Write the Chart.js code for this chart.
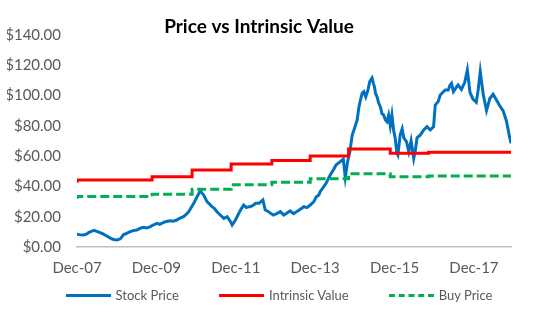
<!DOCTYPE html>
<html>
<head>
<meta charset="utf-8">
<script src="https://cdn.jsdelivr.net/npm/chart.js@4"></script>
<style>
  body { margin: 0; background: #fff; }
  #wrap { position: relative; width: 550px; height: 330px; }
  #legend {
    position: absolute; left: 0; top: 285px; width: 550px; height: 20px;
    display: flex; justify-content: center; align-items: center;
    padding-left: 8px; box-sizing: border-box;
    font-family: Lato, sans-serif; font-size: 13px; color: #595959;
  }
  .item { display: flex; align-items: center; margin: 0 20px; }
  .swatch { width: 45px; height: 0; margin-right: 5px; }
</style>
</head>
<body>
<div id="wrap">
  <canvas id="chart" width="550" height="330"></canvas>
  <div id="legend"></div>
</div>
<script>
// months after Dec-07
const stockMonths = [0, 1, 2, 3, 3.5, 4.5, 5.2, 6, 7, 8, 9, 10, 10.6, 11.5, 12.1, 13.1, 14.1, 15, 16.1, 17,
  18.1, 19, 20.1, 21, 22.2, 23, 24.2, 25, 26.2, 27, 28.2, 29, 30.2, 31, 32.2, 33, 33.8, 34.5, 35.3, 36.3,
  37.3, 37.8, 38.3, 39.3, 40, 40.8, 41.5, 42.3, 43.3, 44.4, 45.4, 46.4, 46.9, 47.9, 48.9, 49.6, 50.4, 51.2, 51.9, 52.4,
  53.4, 54, 55, 56.2, 56.9, 57.9, 58.5, 59.4, 60.5, 61.5, 62.5, 63.5, 64.4, 65.5, 66.5, 67.5, 68.6, 69.5, 70.5, 71.6,
  72.3, 73.1, 73.5, 74.5, 75.3, 76, 76.8, 77.5, 78.3, 79.3, 80.5, 81.1, 81.8, 82.5, 83.2, 84, 84.7, 85.2, 85.7, 86.2,
  86.7, 87.3, 88, 88.5, 89.2, 89.6, 89.9, 90.3, 90.7, 91.2, 91.7, 92.2, 92.7, 93.2, 93.7, 94.2, 94.7, 95.2, 95.7, 96.2,
  96.7, 97, 97.7, 98.3, 98.8, 99.6, 100.3, 101, 101.8, 102.3, 102.8, 103.8, 104.8, 105.8, 106.8, 107.8, 108.3, 109.2, 109.8, 111.3,
  112.2, 112.8, 113.2, 113.8, 114.8, 115.2, 116.2, 117.2, 118, 118.8, 119.7, 120.7, 121.3, 121.9, 122.8, 123.8, 124.8, 125.8, 126.8, 127.8,
  128.8, 129.8, 130.8, 131.2];
const stockPrice = [8.5, 8.0, 7.9, 8.6, 9.5, 10.5, 11.0, 10.3, 9.5, 8.5, 7.3, 6.0, 5.3, 4.8, 4.6, 5.4, 8.2, 9.0, 10.1, 10.8,
  11.2, 12.3, 13.0, 12.5, 13.5, 14.5, 15.6, 15.0, 16.2, 16.8, 17.3, 17.0, 17.8, 18.9, 20.0, 21.5, 23.3, 26.0, 28.8, 33.2,
  37.2, 35.5, 34.3, 29.9, 28.5, 26.6, 25.5, 23.3, 21.1, 18.9, 20.0, 16.7, 14.5, 17.8, 22.2, 25.0, 27.7, 26.0, 26.6, 26.6,
  27.7, 28.8, 28.8, 31.0, 24.4, 23.3, 22.2, 21.1, 22.2, 23.3, 21.1, 22.5, 23.8, 22.0, 23.5, 24.9, 26.6, 26.0, 27.7, 29.9,
  33.0, 34.3, 36.5, 39.5, 42.0, 45.3, 48.5, 50.8, 54.1, 55.8, 58.0, 46.0, 56.3, 63.0, 73.9, 79.0, 83.8, 92.0, 97.0, 101.4,
  102.5, 99.0, 104.0, 109.1, 111.5, 108.0, 105.8, 101.0, 99.2, 95.0, 92.6, 88.0, 87.1, 84.0, 82.7, 87.0, 80.0, 87.1, 77.2, 71.7,
  62.0, 60.7, 74.0, 78.0, 72.0, 69.5, 62.9, 70.0, 58.5, 64.0, 72.0, 73.9, 77.2, 79.4, 77.2, 79.4, 93.7, 96.0, 100.3, 103.6,
  103.6, 106.9, 108.0, 102.5, 105.8, 106.9, 104.0, 108.5, 116.8, 102.0, 97.5, 95.5, 104.0, 115.7, 100.8, 90.0, 98.0, 100.8, 97.0, 93.2,
  90.0, 83.3, 72.3, 68.4];

const valueMonths = [0, 22.7, 34.8, 46.6, 58.9, 70.5, 82.1, 94.7, 106.3, 118.4, 131.2];
const intrinsicValue = [42.4, 44.2, 46.4, 50.8, 54.7, 57.1, 60.1, 64.6, 61.8, 62.5, 62.5];
const buyPrice = [31.6, 33.4, 34.8, 38.1, 41.0, 42.8, 45.1, 48.4, 46.4, 46.9, 46.9];

const xTickLabels = ["Dec-07", "Dec-09", "Dec-11", "Dec-13", "Dec-15", "Dec-17"];
const yTicks = [0, 20, 40, 60, 80, 100, 120, 140];

const toPoints = (xs, ys) => xs.map((x, i) => ({ x: x, y: ys[i] }));
const textColor = "#595959";

const chart = new Chart(document.getElementById("chart"), {
  type: "line",
  data: {
    datasets: [
      {
        label: "Stock Price",
        data: toPoints(stockMonths, stockPrice),
        borderColor: "#0070C0",
        backgroundColor: "#0070C0",
        borderWidth: 3,
        pointRadius: 0,
        order: 3,
      },
      {
        label: "Intrinsic Value",
        data: toPoints(valueMonths, intrinsicValue),
        borderColor: "#FF0000",
        backgroundColor: "#FF0000",
        borderWidth: 3,
        pointRadius: 0,
        stepped: "after",
        order: 2,
      },
      {
        label: "Buy Price",
        data: toPoints(valueMonths, buyPrice),
        borderColor: "#00B050",
        backgroundColor: "#00B050",
        borderWidth: 3,
        borderDash: [9, 4],
        pointRadius: 0,
        stepped: "after",
        order: 1,
      },
    ],
  },
  options: {
    responsive: false,
    animation: false,
    layout: { padding: { left: 7, right: 39, top: 0, bottom: 41 } },
    plugins: {
      legend: { display: false },
      tooltip: { enabled: false },
      title: {
        display: true,
        text: "Price vs Intrinsic Value",
        color: "#000",
        font: { family: "Lato", size: 19, weight: "bold" },
        padding: { top: 15, bottom: -3 },
      },
    },
    scales: {
      x: {
        type: "linear",
        min: stockMonths[0],
        max: stockMonths[stockMonths.length - 1],
        grid: { display: false, drawTicks: false },
        border: { display: true, color: "#BFBFBF", width: 1.5 },
        afterBuildTicks: (scale) => {
          scale.ticks = xTickLabels.map((_, i) => ({ value: i * 24 }));
        },
        ticks: {
          autoSkip: false,
          maxRotation: 0,
          padding: 12,
          color: textColor,
          font: { family: "Lato", size: 15 },
          callback: (value) => xTickLabels[Math.round(value / 24)],
        },
      },
      y: {
        min: 0,
        max: 140,
        afterFit: (scale) => { scale.width = 70; },
        afterBuildTicks: (scale) => {
          scale.ticks = yTicks.map((v) => ({ value: v }));
        },
        grid: { display: false, drawTicks: false },
        border: { display: false },
        ticks: {
          padding: 16,
          color: textColor,
          font: { family: "Lato", size: 15 },
          callback: (value) => "$" + value.toFixed(2),
        },
      },
    },
  },
});

// HTML legend built from the chart's datasets
const legendEl = document.getElementById("legend");
chart.data.datasets.forEach((ds) => {
  const item = document.createElement("div");
  item.className = "item";
  const swatch = document.createElement("span");
  swatch.className = "swatch";
  swatch.style.borderTop = "3px " + (ds.borderDash ? "dashed " : "solid ") + ds.borderColor;
  const text = document.createElement("span");
  text.textContent = ds.label;
  item.appendChild(swatch);
  item.appendChild(text);
  legendEl.appendChild(item);
});
</script>
</body>
</html>
